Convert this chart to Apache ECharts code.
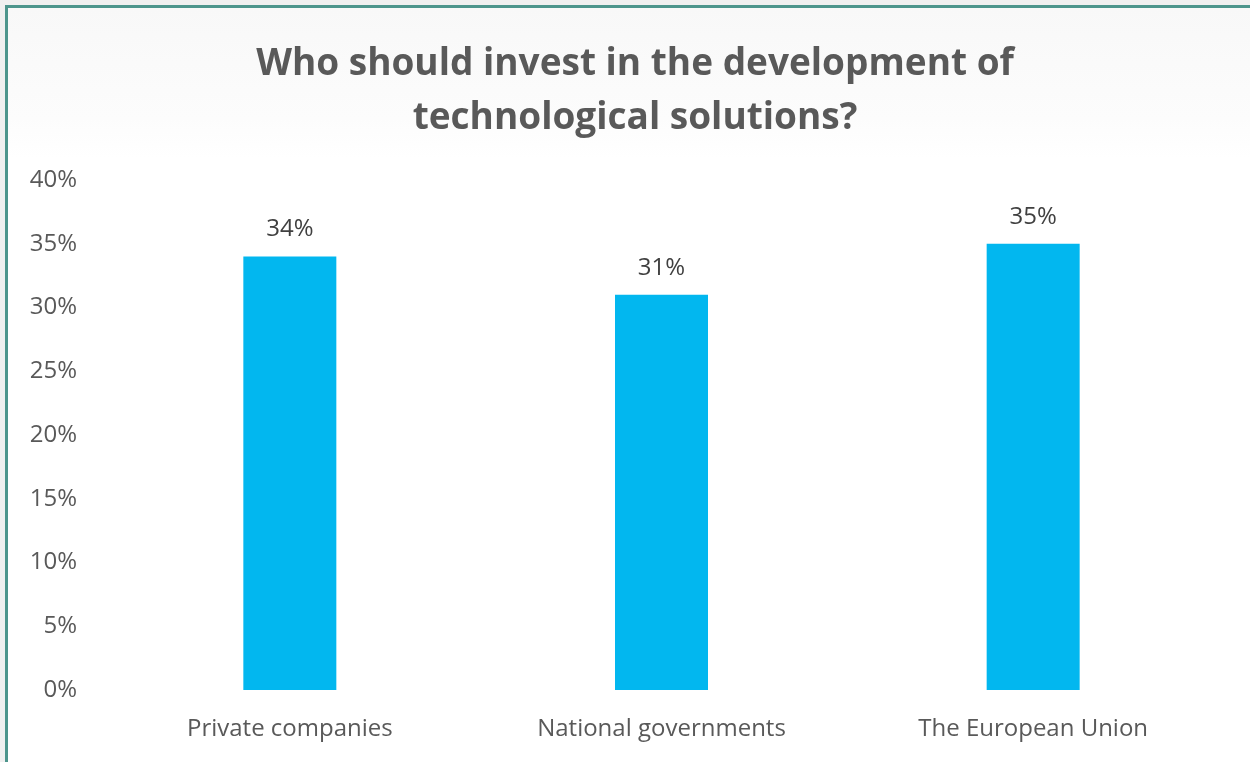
<!DOCTYPE html>
<html>
<head>
<meta charset="utf-8">
<script src="https://cdn.jsdelivr.net/npm/echarts@6/dist/echarts.min.js"></script>
<style>
  html, body { margin: 0; padding: 0; background: #f0f0f0; }
  #frame {
    position: absolute; left: 5px; top: 5px; width: 1250px; height: 762px;
    border-left: 3px solid #4d958c; border-top: 3px solid #4d958c;
    background: linear-gradient(to bottom, #f8f8f8 0px, #fcfcfc 110px, #ffffff 150px);
  }
  #chart { position: absolute; left: 0; top: 0; width: 1250px; height: 762px; }
</style>
</head>
<body>
<div id="frame"></div>
<div id="chart"></div>
<script>
const titleText = 'Who should invest in the development of\ntechnological solutions?';
const categories = ['Private companies', 'National governments', 'The European Union'];
const shares = [34, 31, 35];
const yTicks = [0, 5, 10, 15, 20, 25, 30, 35, 40];

const chart = echarts.init(document.getElementById('chart'), null, { renderer: 'canvas' });
chart.setOption({
  backgroundColor: 'transparent',
  animation: false,
  textStyle: { fontFamily: '"Open Sans", sans-serif' },
  title: {
    text: titleText,
    left: 630, top: 32, textAlign: 'center',
    textStyle: { fontSize: 37, fontWeight: 'bold', color: '#595959', lineHeight: 54,
      fontFamily: '"Open Sans", sans-serif' }
  },
  grid: { left: 104, right: 31, top: 180, bottom: 72, containLabel: false },
  xAxis: {
    type: 'category', data: categories,
    axisLine: { show: false }, axisTick: { show: false },
    axisLabel: { fontSize: 24, color: '#595959', margin: 27 }
  },
  yAxis: {
    type: 'value', min: 0, max: yTicks[yTicks.length - 1], interval: 5,
    axisLine: { show: false }, axisTick: { show: false }, splitLine: { show: false },
    axisLabel: { fontSize: 24, color: '#595959', margin: 27, formatter: v => v + '%' }
  },
  series: [{
    type: 'bar', data: shares, barWidth: 93,
    itemStyle: { color: '#02b7ef' },
    label: { show: true, position: 'top', distance: 15, fontSize: 24, color: '#404040',
      formatter: p => p.value + '%' }
  }]
});
</script>
</body>
</html>
